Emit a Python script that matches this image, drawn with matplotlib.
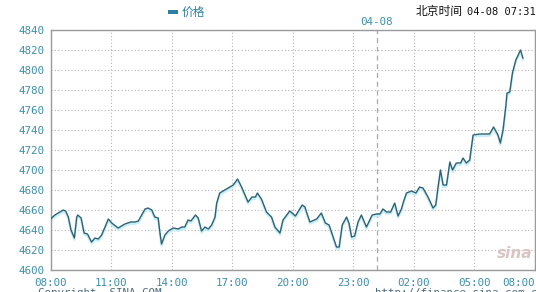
import matplotlib
matplotlib.use('Agg')
import matplotlib.pyplot as plt
import matplotlib.transforms as mtransforms
from matplotlib.patches import Rectangle

# minutes after 08:00 (04-07) and price
minutes = [0, 13, 38, 45, 53, 61, 71, 78, 81, 91, 100, 110, 122, 132, 142, 152,
           172, 182, 201, 221, 239, 251, 261, 271, 281, 290, 301, 310, 320, 325,
           330, 340, 350, 365, 380, 390, 399, 409, 417, 431, 439, 449, 459, 469,
           479, 489, 494, 503, 513, 528, 543, 556, 568, 587, 599, 609, 615, 627,
           642, 657, 667, 682, 691, 711, 718, 728, 748, 756, 771, 791, 805, 817,
           828, 840, 850, 858, 867, 880, 887, 895, 904, 914, 924, 939, 956, 969,
           979, 988, 999, 1011, 1023, 1033, 1043, 1048, 1058, 1073, 1086, 1097,
           1107, 1122, 1137, 1145, 1152, 1159, 1167, 1177, 1187, 1195, 1206, 1219,
           1226, 1236, 1246, 1256, 1276, 1305, 1317, 1330, 1337, 1345, 1353, 1357,
           1365, 1373, 1383, 1397, 1404]
price = [4651, 4655, 4660, 4659, 4653, 4640, 4632, 4653, 4655, 4652, 4637, 4636,
         4628, 4632, 4631, 4635, 4651, 4647, 4642, 4646, 4648, 4648, 4649, 4655,
         4661, 4662, 4660, 4653, 4652, 4638, 4626, 4635, 4639, 4642, 4641, 4643,
         4643, 4650, 4649, 4655, 4652, 4639, 4643, 4641, 4645, 4653, 4667, 4677,
         4679, 4682, 4685, 4691, 4683, 4668, 4673, 4673, 4677, 4671, 4658, 4653,
         4643, 4637, 4650, 4659, 4657, 4654, 4665, 4663, 4648, 4651, 4657, 4647,
         4645, 4633, 4623, 4623, 4645, 4653, 4647, 4633, 4634, 4648, 4655, 4643,
         4655, 4656, 4656, 4661, 4658, 4658, 4667, 4654, 4661, 4667, 4677, 4679,
         4677, 4683, 4682, 4673, 4662, 4665, 4683, 4700, 4685, 4685, 4708, 4700,
         4707, 4707, 4712, 4707, 4710, 4735, 4736, 4736, 4743, 4735, 4727, 4740,
         4763, 4777, 4778, 4797, 4810, 4820, 4812]

x_ticks = [0, 180, 360, 540, 720, 900, 1080, 1260, 1440]
x_labels = ['08:00', '11:00', '14:00', '17:00', '20:00', '23:00', '02:00', '05:00', '08:00']
y_ticks = list(range(4600, 4841, 20))
day_change = 970  # date change marker for 04-08

plt.rcParams['font.family'] = ['DejaVu Sans Mono', 'Noto Sans CJK SC']
teal = '#3d8ea8'

fig = plt.figure(figsize=(5.36, 2.92), dpi=100)
ax = fig.add_axes([50.5 / 536, 22 / 292, 484.5 / 536, 240 / 292])

# light glow under the price line
glow = mtransforms.offset_copy(ax.transData, fig=fig, x=0, y=-1.3, units='points')
ax.plot(minutes, price, color='#c4eef8', lw=1.6, transform=glow, zorder=2)
ax.plot(minutes, price, color='#2e6172', lw=1.0, zorder=3)

ax.axvline(day_change, color='#a8a8a8', lw=0.9, ls=(0, (4, 3)), zorder=1)
ax.text(day_change, 4843, '04-08', color=teal, fontsize=7.8, ha='center', va='bottom')

ax.set_xlim(0, 1440)
ax.set_ylim(4600, 4840)
ax.set_xticks(x_ticks)
ax.set_xticklabels(x_labels)
ax.set_yticks(y_ticks)
ax.grid(True, color='#b4b4b4', lw=0.8, ls=(0, (1, 2)))
ax.tick_params(length=0, labelsize=7.8, labelcolor=teal)
ax.tick_params(axis='x', pad=6)
ax.tick_params(axis='y', pad=4)
ax.get_xticklabels()[-1].set_horizontalalignment('right')
for s in ax.spines.values():
    s.set_color('#9a9a9a')
    s.set_linewidth(1.0)

# header legend
fig.add_artist(Rectangle((168 / 536, 1 - 13.5 / 292), 10 / 536, 3 / 292,
                         transform=fig.transFigure, color='#2f7fa0', lw=0))
fig.text(182 / 536, 1 - 12 / 292, '价格', color='#2f7fa0', fontsize=8.5, ha='left', va='center',
         family=['Noto Sans CJK SC', 'DejaVu Sans'])
fig.text(416 / 536, 1 - 12 / 292, '北京时间', color='#111111', fontsize=8.5, ha='left',
         va='center', family=['Noto Sans CJK SC', 'DejaVu Sans'])
fig.text(1.0, 1 - 12 / 292, '04-08 07:31', color='#111111', fontsize=7.5, ha='right', va='center')

# watermark and footer (cut off at the bottom edge)
ax.text(0.995, 0.07, 'sina', transform=ax.transAxes, color='#d9c4c4', fontsize=11,
        style='italic', fontweight='bold', ha='right', va='center', family='DejaVu Sans')
fig.text(38 / 536, 4 / 292, 'Copyright  SINA.COM', color='#4b6d7d', fontsize=7.8, ha='left', va='top')
fig.text(375 / 536, 4 / 292, 'http://finance.sina.com.cn', color='#4b6d7d', fontsize=7.8, ha='left',
         va='top')

fig.savefig('out.png', dpi=100)
